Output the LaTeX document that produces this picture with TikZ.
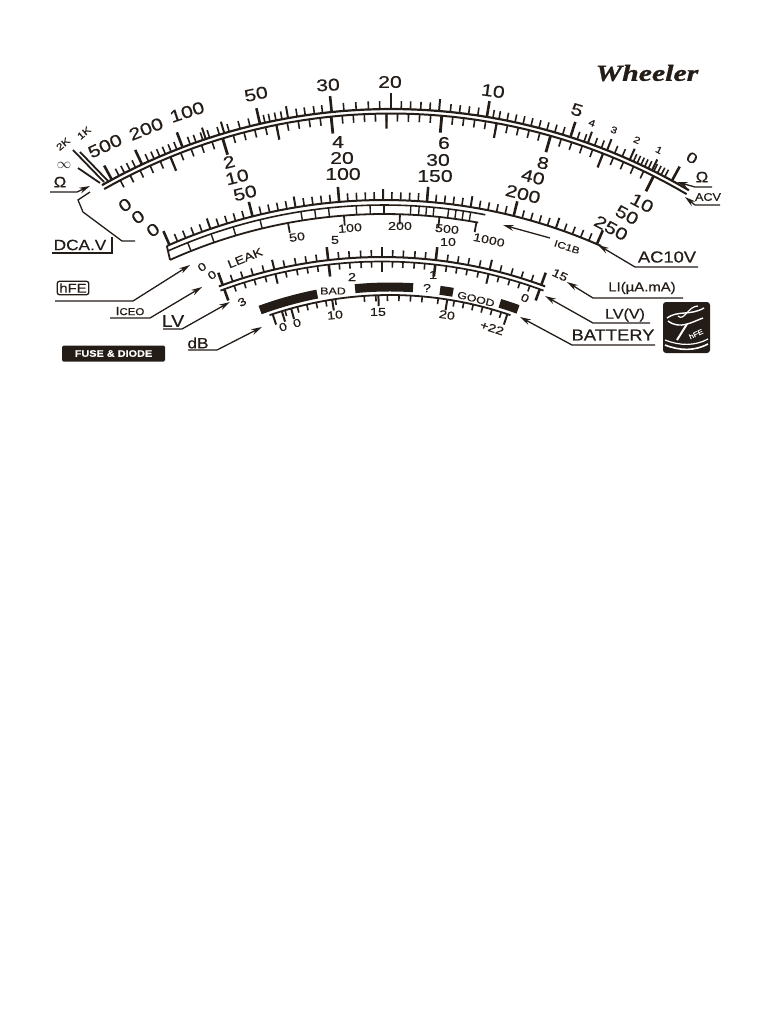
\documentclass[tikz,border=0pt]{standalone}
\usepackage{fontspec}
\usetikzlibrary{arrows.meta}
\setmainfont{Liberation Sans}
\newfontfamily\wf[FakeStretch=1.15,FakeBold=0.5]{Liberation Sans}
\newfontfamily\lf[FakeStretch=1.25,FakeBold=0.6]{Liberation Sans}
\newfontfamily\logof[FakeStretch=1.3,FakeBold=1.2]{Liberation Serif}
\definecolor{ink}{HTML}{241C17}
\newcommand{\tkarc}[6][1.5]{\draw[line width=#1] plot[domain=#5:#6,samples=50] ({#2+#4*sin(\x)},{#3-#4*cos(\x)});}
\newcommand{\tks}[6][1.6]{\foreach \a in {#6} \draw[line width=#1] ({#2+#4*sin(\a)},{#3-#4*cos(\a)}) -- ({#2+(#4+#5)*sin(\a)},{#3-(#4+#5)*cos(\a)});}
\tikzset{
 lab/.style={inner sep=0pt,text=ink,font=\lf\fontsize{17}{17}\selectfont},
 mid/.style={inner sep=0pt,text=ink,font=\lf\fontsize{11.5}{12}\selectfont},
 sml/.style={inner sep=0pt,text=ink,font=\lf\fontsize{9.5}{10}\selectfont},
 tag/.style={inner sep=0pt,text=ink,font=\wf\fontsize{15}{15}\selectfont},
 conn/.style={draw=ink,line width=1.3pt},
 arr/.style={conn,-{Stealth[length=11pt,width=6pt]}},
 pt/.style={inner sep=0pt}
}
\begin{document}
\begin{tikzpicture}[x=1bp,y=-1bp,draw=ink,line cap=butt]
\useasboundingbox (0,0) rectangle (768,1024);
% ---------- top scale
\tkarc[2.2]{391}{696}{587}{-29.5}{30.5}
\tkarc[2]{391}{696}{582.5}{-29.5}{30.5}
\tks{391}{696}{587}{8}{27.8,27.4,27,26.6,26,25.6,25.2,24.8,24.4,23.2,22.4,21,20.3,19.2,18.5,17.0,16.2,15.4,14.6,13.8,13,12.2,11.4,10.6,10,8.5,7.6,6.7,5.8,3.8,2.9,1.9,1,-1.1,-2.2,-3.4,-4.6,-6.7,-7.5,-8.4,-9.2,-10.7,-11.3,-11.9,-12.4,-13.9,-14.9,-16,-17,-18,-18.7,-19.4,-20,-21.4,-22,-22.6,-23.2,-23.8,-24.4,-25.8,-26.4,-27,-27.6}
\tks[2]{391}{696}{587}{12}{26.4,24,21.6,19.6,4.7,-10.1,-16.5,-18.4}
\tks[2.6]{391}{696}{587}{16}{28.6,17.8,9.4,0,-5.8,-12.9,-20.8,-25.1,-28.4}
\draw[line width=1.8] (108,181) -- (80,152) (104,182) -- (73,150) (100,183) -- (78,168);
\tks{391}{696}{582.5}{-8}{-27.7,-26.61,...,26.8}
\tks[2.2]{391}{696}{582.5}{-15}{-22.25,-11.35,-0.45,10.45,21.35}
\tks[2.8]{391}{696}{582.5}{-17}{-16.8,-5.9,5.0,15.9,26.8}
\node[lab,rotate=25] (u500) at (105,146) {500};
\node[lab,rotate=22] (u200) at (146,129) {200};
\node[lab,rotate=18] (u100) at (187,112) {100};
\node[lab,rotate=12] (u50) at (256,94) {50};
\node[lab,rotate=3] (u30) at (328,85) {30};
\node[lab] (u20) at (390,82) {20};
\node[lab,rotate=-8] (u10) at (493,91) {10};
\node[lab,rotate=-17] (u5) at (577,110) {5};
\node[sml,rotate=-20] (u4) at (592,123) {4};
\node[sml,rotate=-22] (u3) at (614,130) {3};
\node[sml,rotate=-24] (u2) at (637,140) {2};
\node[sml,rotate=-26] (u1) at (659,150) {1};
\node[lab,rotate=-28,font=\lf\fontsize{15}{15}\selectfont] (u0) at (692,158) {0};
\node[mid,rotate=40,font=\lf\fontsize{9.5}{10}\selectfont] (k2) at (63,144) {2K};
\node[mid,rotate=40,font=\lf\fontsize{9.5}{10}\selectfont] (k1) at (84,133) {1K};
\node[mid,font=\fontsize{15}{15}\selectfont] (inf) at (64,165) {$\infty$};
\node[tag] (ohmL) at (60,182) {Ω};
\node[tag] (ohmR) at (702,177) {Ω};
\node[tag,font=\wf\fontsize{11}{11}\selectfont] (acv) at (708,197) {ACV};
% ---------- lower column labels
\foreach \n/\x/\y/\t/\r in {a2/229/162/2/14,a10/237/177/10/14,a50/245/193/50/14,b4/338/142/4/0,b20/342/158/20/0,b100/343/174/100/0,c6/444/143/6/0,c30/438/160/30/0,c150/435/176/150/0,d8/543/163/8/-12,d40/533/177/40/-14,d200/523/194/200/-14,e10/642/203/10/-28,e50/627/215/50/-28,e250/611/228/250/-28}
  \node[lab,rotate=\r] (\n) at (\x,\y) {\t};
\node[lab,rotate=35] (z1) at (125,205) {0};
\node[lab,rotate=35] (z2) at (138,217) {0};
\node[lab,rotate=35] (z3) at (153,230) {0};
% ---------- second scale
\tkarc[2]{384}{736}{536}{-23.9}{23.9}
\tkarc[1.6]{384}{736}{531}{-24}{11}
\tkarc[1.8]{384}{736}{522}{-24.2}{10.4}
\draw[line width=1.8] ({384+536*sin(-23.9)},{736-536*cos(-23.9)}) -- ({384+522*sin(-24.2)},{736-522*cos(-24.2)});
\tks{384}{736}{536}{8}{-22.66,-21.72,-20.78,-19.84,-17.96,-17.02,-16.08,-15.14,-13.26,-12.32,-11.38,-10.44,-8.56,-7.62,-6.68,-5.74,-3.86,-2.92,-1.98,-1.04,0.84,1.78,2.72,3.66,5.54,6.48,7.42,8.36,10.24,11.18,12.12,13.06,14.94,15.88,16.82,17.76,19.64,20.58,21.52,22.46}
\tks[2]{384}{736}{536}{11}{-18.9,-9.5,-0.1,9.3,18.7}
\tks[2.6]{384}{736}{536}{15}{-23.6,-14.2,-4.8,4.6,14,23.4}
\tks[1.4]{384}{736}{531}{-9}{-21.7,-19,-16.5,-13.5,-9,-7.5,-6,-3,-1.5,0,2.9,3.8,4.6,5.4,7,7.8,8.6,9.4}
\tks[1.8]{384}{736}{522}{-10}{-10.6,-4.4,1.75,6.1,10.2}
\node[mid,rotate=8] (s50) at (297,237) {50};
\node[mid,rotate=5] (s100) at (350,228) {100};
\node[mid] (s200) at (400,226) {200};
\node[mid,rotate=-6] (s500) at (447,229) {500};
\node[mid,rotate=-12] (s1000) at (489,240) {1000};
% ---------- third scale
\tkarc[2]{382}{725}{468}{-20.4}{20.4}
\tkarc[1.7]{382}{725}{463.5}{-20.4}{20.4}
\tks{382}{725}{468}{7}{-18.6,-17.3,-16,-14.6,-12,-10.6,-9.3,-8,-5.3,-4,-2.6,-1.3,1.3,2.6,4,5.3,8,9.3,10.6,12,14.6,16,17.3,18.6}
\tks[2]{382}{725}{468}{10}{-13.3,0,13.3}
\tks[2.6]{382}{725}{468}{13}{-19.9,-6.6,6.6,19.9}
\tks{382}{725}{463.5}{-6}{-18.6,-17.3,-16,-14.6,-12,-10.6,-9.3,-8,-5.3,-4,-2.6,-1.3,1.3,2.6,4,5.3,8,9.3,10.6,12,14.6,16,17.3,18.6}
\tks[2]{382}{725}{463.5}{-10}{-13.3,0,13.3}
\tks[2.6]{382}{725}{463.5}{-12}{-19.9,-6.6,6.6,19.9}
\node[mid,rotate=22] (leak) at (245,258) {LEAK};
\node[mid] (l5) at (335,240) {5};
\node[mid] (l10) at (448,242) {10};
\node[mid,rotate=-25] (l15) at (560,275) {15};
\node[mid] (r2) at (352,277) {2};
\node[mid] (r1) at (433,275) {1};
\node[mid,rotate=30] (r3) at (242,302) {3};
\node[mid,rotate=-25] (r0) at (525,298) {0};
\node[mid,rotate=35] (h1) at (202,267) {0};
\node[mid,rotate=35] (h2) at (212,275) {0};
% ---------- fourth scale
\tkarc[1.8]{390}{665}{370}{-19}{19}
\tkarc[9]{390}{665}{378}{-20.1}{-11.1}
\tkarc[9]{390}{665}{378}{-5.3}{3.5}
\tkarc[9]{390}{665}{378}{7.6}{9.6}
\tkarc[9]{390}{665}{378}{16.9}{19.8}
\tks{390}{665}{370}{-6}{-16.5,-14.5,-13,-11.5,-10,-8.5,-4,-2.2,-0.4,1.4,3.2,5,7.5,10,11.5,13,14.5,16,17.5}
\tks[2]{390}{665}{370}{-11}{-18.5,-17,-15.5,-9,-1.8,8.9,18.5}
\node[mid,rotate=18] (g01) at (283,327) {0};
\node[mid,rotate=18] (g02) at (297,323) {0};
\node[mid,rotate=6] (g10) at (335,315) {10};
\node[mid] (g15) at (378,312) {15};
\node[mid,rotate=-9] (g20) at (447,315) {20};
\node[mid,rotate=-18] (g22) at (492,328) {+22};
\node[sml,font=\lf\fontsize{10}{10}\selectfont] (bad) at (333,291) {BAD};
\node[mid] (qm) at (427,288) {?};
\node[sml,font=\lf\fontsize{10}{10}\selectfont,rotate=-14] (good) at (476,299) {GOOD};
% ---------- logo
\node[pt,text=ink,font=\logof\bfseries\itshape\fontsize{23}{23}\selectfont] (logo) at (647,73) {Wheeler};
% ---------- side labels
\node[tag] (dca) at (80,245) {DCA.V};
\node[draw=ink,line width=1.3pt,rounded corners=2pt,inner xsep=2pt,inner ysep=2pt,text=ink,font=\wf\fontsize{13}{13}\selectfont] (hfe) at (73,288) {hFE};
\node[tag,font=\wf\fontsize{12}{12}\selectfont] (iceo) at (130,311) {I\raisebox{0pt}{\fontsize{10}{10}\selectfont CEO}};
\node[tag,font=\wf\fontsize{17}{17}\selectfont] (lv) at (173,321) {LV};
\node[tag] (db) at (198,343) {dB};
\node[fill=ink,rounded corners=1.5pt,text=white,minimum width=103bp,minimum height=16bp,inner sep=0pt,font=\wf\bfseries\fontsize{9.5}{10}\selectfont] (fuse) at (113.5,353.5) {FUSE \& DIODE};
\node[tag,font=\wf\fontsize{16}{16}\selectfont] (ac10) at (667,257) {AC10V};
\node[sml,rotate=-18] (icb) at (567,247) {IC1B};
\node[tag,font=\wf\fontsize{13}{13}\selectfont] (li) at (642,288) {LI(µA.mA)};
\node[tag,font=\wf\fontsize{14}{14}\selectfont] (lvv) at (625,315) {LV(V)};
\node[tag,font=\wf\fontsize{16}{16}\selectfont] (batt) at (613,335) {BATTERY};
% ---------- connector points
\foreach \n/\x/\y in {pO1/50/192,pO2/77/192,pO3/90/186,pR1/712/187,pR2/695/187,pR3/677/182,pA1/720/205,pA2/695/205,pA3/685/197,
 pD1/52/253,pD2/112/253,pD3/112/237,pD4/135/241,pD5/122/241,pD6/83/212,pD7/78/200,pD8/90/192,
 pH1/55/301,pH2/133/301,pH3/190/265,pI1/110/318,pI2/150/318,pI3/202/287,pL1/163/329,pL2/182/329,pL3/230/302,
 pB1/188/350,pB2/217/350,pB3/262/327,pC1/698/267,pC2/635/267,pC3/598/245,pT1/550/238,pT2/503/225,
 pM1/683/298,pM2/593/298,pM3/567/282,pV1/650/323,pV2/593/323,pV3/545/296,pY1/655/345,pY2/572/345,pY3/520/317}
  \coordinate (\n) at (\x,\y);
\draw[arr] (pO1) -- (pO2) -- (pO3);
\draw[arr] (pR1) -- (pR2) -- (pR3);
\draw[arr] (pA1) -- (pA2) -- (pA3);
\draw[conn] (pD1) -- (pD2) -- (pD3);
\draw[conn] (pD4) -- (pD5) -- (pD6) -- (pD7) -- (pD8);
\draw[arr] (pH1) -- (pH2) -- (pH3);
\draw[arr] (pI1) -- (pI2) -- (pI3);
\draw[arr] (pL1) -- (pL2) -- (pL3);
\draw[arr] (pB1) -- (pB2) -- (pB3);
\draw[arr] (pC1) -- (pC2) -- (pC3);
\draw[arr] (pT1) -- (pT2);
\draw[arr] (pM1) -- (pM2) -- (pM3);
\draw[arr] (pV1) -- (pV2) -- (pV3);
\draw[arr] (pY1) -- (pY2) -- (pY3);
% ---------- icon
\fill[ink,rounded corners=3pt] (663,302) rectangle (710,353);
\draw[white,line width=1.6] (665,345) .. controls (680,351) and (695,351) .. (708,344);
\draw[white,line width=1.2] (665,340) .. controls (680,346) and (695,346) .. (708,339);
\draw[white,line width=2] (677,340) -- (687,324);
\draw[white,line width=1.4] (667,318) .. controls (678,310) and (690,316) .. (704,308);
\draw[white,line width=1.4] (668,321) .. controls (680,330) and (692,322) .. (703,318);
\draw[white,line width=1.2] (678,316) .. controls (684,322) and (688,306) .. (698,306);
\node[pt,text=white,rotate=25,font=\wf\fontsize{7}{7}\selectfont] (icont) at (696,334) {hFE};
\end{tikzpicture}
\end{document}
